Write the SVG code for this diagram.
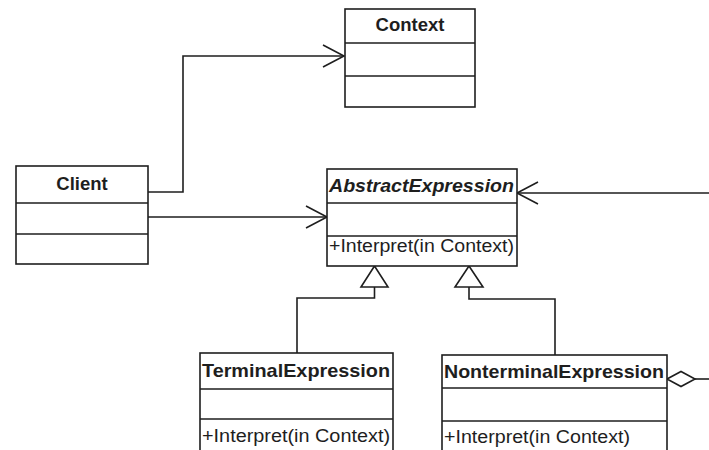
<svg xmlns="http://www.w3.org/2000/svg" width="709" height="450" viewBox="0 0 709 450">
  <style>
    .box { fill: #fff; stroke: #1e1e1e; stroke-width: 1.6; }
    .sep { stroke: #1e1e1e; stroke-width: 1.6; fill: none; }
    .line { stroke: #1e1e1e; stroke-width: 1.6; fill: none; }
    .name { font-family: "Liberation Sans", Arial, sans-serif; font-size: 18.5px; font-weight: bold; fill: #1e1e1e; }
    .abs { font-style: italic; }
    .op { font-family: "Liberation Sans", Arial, sans-serif; font-size: 17.5px; fill: #1e1e1e; }
  </style>
  <defs>
    <marker id="open" viewBox="0 0 24 24" refX="22" refY="12" markerWidth="24" markerHeight="24" markerUnits="userSpaceOnUse" orient="auto">
      <path d="M1,1 L22,12 L1,23" fill="none" stroke="#1e1e1e" stroke-width="1.6"/>
    </marker>
  </defs>
  <rect width="709" height="450" fill="#fff"/>

  <g id="connectors">
    <!-- Client uses Context -->
    <polyline class="line" points="148,192 183,192 183,56 344,56" marker-end="url(#open)"/>
    <!-- Client uses AbstractExpression -->
    <polyline class="line" points="148,217 327,217" marker-end="url(#open)"/>
    <!-- aggregation back to AbstractExpression -->
    <polyline class="line" points="709,193 517,193" marker-end="url(#open)"/>
    <!-- generalisation: TerminalExpression -->
    <polyline class="line" points="297,353 297,298 374.5,298 374.5,287"/>
    <polygon class="box" points="374.5,266 361,287 388,287"/>
    <!-- generalisation: NonterminalExpression -->
    <polyline class="line" points="555,355 555,299 469,299 469,287"/>
    <polygon class="box" points="469,266 455,287 483,287"/>
    <!-- aggregation diamond -->
    <line class="line" x1="695" y1="379" x2="709" y2="379"/>
    <polygon class="box" points="667,379 681,371.5 695,379 681,386.5"/>
  </g>

  <g id="Context">
    <rect class="box" x="345" y="9" width="130" height="98"/>
    <line class="sep" x1="345" y1="43" x2="475" y2="43"/>
    <line class="sep" x1="345" y1="76" x2="475" y2="76"/>
    <text class="name" x="410" y="31" text-anchor="middle">Context</text>
  </g>

  <g id="Client">
    <rect class="box" x="16" y="166" width="132" height="98"/>
    <line class="sep" x1="16" y1="203" x2="148" y2="203"/>
    <line class="sep" x1="16" y1="234" x2="148" y2="234"/>
    <text class="name" x="82" y="190" text-anchor="middle">Client</text>
  </g>

  <g id="AbstractExpression">
    <rect class="box" x="327" y="169" width="190" height="97"/>
    <line class="sep" x1="327" y1="203" x2="517" y2="203"/>
    <line class="sep" x1="327" y1="236" x2="517" y2="236"/>
    <text class="name abs" x="329" y="192" textLength="185" lengthAdjust="spacingAndGlyphs">AbstractExpression</text>
    <text class="op" x="329" y="252" textLength="185" lengthAdjust="spacingAndGlyphs">+Interpret(in Context)</text>
  </g>

  <g id="TerminalExpression">
    <rect class="box" x="200" y="353" width="193" height="100"/>
    <line class="sep" x1="200" y1="389" x2="393" y2="389"/>
    <line class="sep" x1="200" y1="419" x2="393" y2="419"/>
    <text class="name" x="202" y="377" textLength="188" lengthAdjust="spacingAndGlyphs">TerminalExpression</text>
    <text class="op" x="202" y="442" textLength="188" lengthAdjust="spacingAndGlyphs">+Interpret(in Context)</text>
  </g>

  <g id="NonterminalExpression">
    <rect class="box" x="442" y="355" width="225" height="98"/>
    <line class="sep" x1="442" y1="388" x2="667" y2="388"/>
    <line class="sep" x1="442" y1="421" x2="667" y2="421"/>
    <text class="name" x="444" y="378" textLength="220" lengthAdjust="spacingAndGlyphs">NonterminalExpression</text>
    <text class="op" x="444" y="443" textLength="186" lengthAdjust="spacingAndGlyphs">+Interpret(in Context)</text>
  </g>
</svg>
